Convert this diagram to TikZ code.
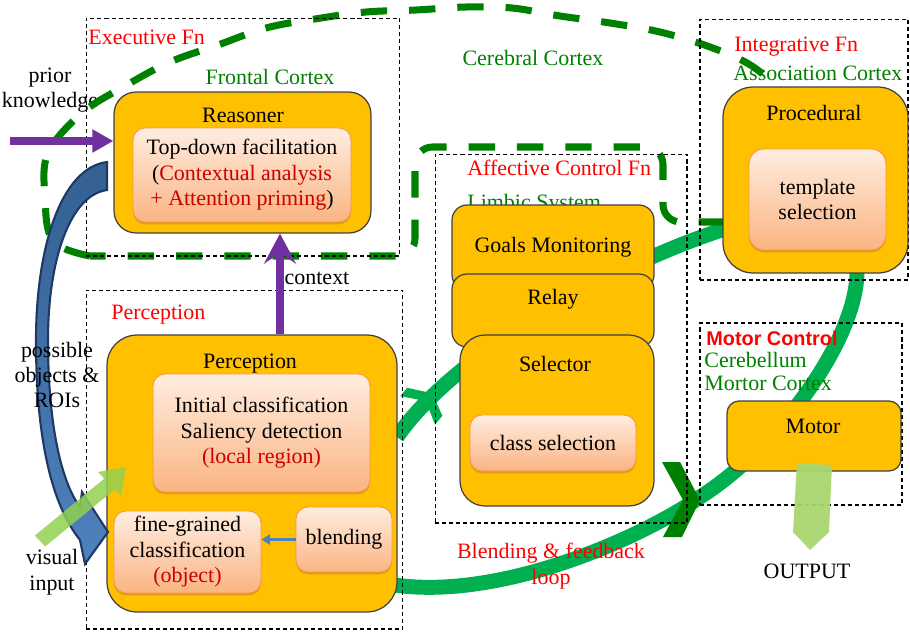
\documentclass[tikz,border=0pt]{standalone}
\usepackage{fontspec}
\setmainfont{Liberation Serif}
\newfontfamily\labelsans{Liberation Sans}
\usetikzlibrary{arrows.meta,shadows}

\definecolor{modfill}{RGB}{255,192,0}
\definecolor{modedge}{RGB}{64,64,64}
\definecolor{taskedge}{RGB}{247,150,70}
\definecolor{tasktop}{RGB}{255,237,224}
\definecolor{taskbot}{RGB}{250,180,130}
\definecolor{taskshadow}{RGB}{200,120,40}
\definecolor{fnred}{RGB}{255,0,0}
\definecolor{notered}{RGB}{204,0,0}
\definecolor{ctxgreen}{RGB}{0,128,0}
\definecolor{loopgreen}{RGB}{0,176,80}
\definecolor{inputgreen}{RGB}{146,208,80}
\definecolor{outgreen}{RGB}{169,214,110}
\definecolor{arrowpurple}{RGB}{112,48,160}
\definecolor{roiblue}{RGB}{31,56,100}
\definecolor{roitop}{RGB}{52,96,146}
\definecolor{roibot}{RGB}{79,129,189}
\definecolor{blendblue}{RGB}{79,129,189}

\tikzset{
  zone/.style={draw, line width=0.6pt, dash pattern=on 2.3pt off 1.7pt, inner sep=0},
  zonefn/.style={text=fnred, anchor=west, inner sep=0},
  zonectx/.style={text=ctxgreen, anchor=west, inner sep=0},
  module/.style={draw=modedge, fill=modfill, line width=0.7pt, inner sep=0},
  task/.style={draw=taskedge, top color=tasktop, bottom color=taskbot, line width=0.5pt,
    rounded corners=0.24cm, inner sep=0, align=center,
    drop shadow={shadow xshift=0pt, shadow yshift=-1.3pt, fill=taskshadow, opacity=0.5}},
  cerebral/.style={draw=ctxgreen, line width=4pt, dash pattern=on 15pt off 12.5pt},
  loopband/.style={draw=loopgreen, line width=8.5pt},
  purplearrow/.style={draw=arrowpurple, line width=4.3pt},
  roiarrow/.style={draw=roiblue, line width=1.2pt, top color=roitop, bottom color=roibot},
  blendarrow/.style={draw=blendblue, line width=1.3pt, -{Triangle[length=5pt,width=6pt]}},
}

\begin{document}
\begin{tikzpicture}[x=0.02cm, y=0.02cm, font=\fontsize{12.5}{14.5}\selectfont]
\useasboundingbox (0,0) rectangle (910,-633);

% feedback loop
\draw[loopband] (397,-437) .. controls (455,-352) and (620,-262) .. (725,-229);
\draw[loopband] (857,-270) .. controls (858,-340) and (775,-450) .. (700,-497)
  .. controls (640,-539) and (500,-600) .. (395,-585);
\fill[loopgreen, shift={(425,-402)}, rotate=50, scale=0.6]
  (-19,38) -- (-1,38) -- (19,0) -- (1,-37) -- (-18,-37) -- (2,0) -- cycle;
\fill[ctxgreen] (662,-462) -- (680,-462) -- (700,-500) -- (682,-537) -- (663,-537) -- (683,-500) -- cycle;

% zone labels
\node[zonefn] at (88,-37) {Executive Fn};
\node[text=ctxgreen] at (270,-77) {Frontal Cortex};
\node[text=ctxgreen] at (533,-58) {Cerebral Cortex};
\node[zonefn] at (734,-47) {Integrative Fn};
\node[zonectx] at (733,-73) {Association Cortex};
\node[zonefn] at (467,-168) {Affective Control Fn};
\node[zonectx] at (467,-204) {Limbic System};
\node[zonefn] at (111,-315) {Perception};
\node[zonefn, font=\labelsans\bfseries\fontsize{11.3}{13}\selectfont] at (706,-338) {Motor Control};
\node[zonectx] at (704,-360) {Cerebellum};
\node[zonectx] at (704,-383) {Mortor Cortex};
\node[align=center] (priorlabel) at (50,-90) {prior\\knowledge};

% cerebral cortex
\draw[cerebral] (725,-222) [rounded corners=0.35cm] -- (663,-222) -- (663,-147) -- (415,-147)
  -- (415,-256) -- (90,-256);
\draw[cerebral] plot[smooth, tension=0.6] coordinates {(90,-256) (53,-241) (45,-197) (48,-153)
  (82,-113) (125,-86) (170,-62) (218,-45) (266,-28) (315,-19) (366,-12) (416,-10) (466,-7)
  (512,-8) (560,-16) (610,-23) (660,-32) (710,-47) (752,-66) (785,-95)};

% zones
\node[zone, minimum width=6.28cm, minimum height=4.76cm] (execzone) at (243,-137) {};
\node[zone, minimum width=6.34cm, minimum height=6.78cm] (percepzone) at (244.5,-459.5) {};
\node[zone, minimum width=5.04cm, minimum height=7.38cm] (affzone) at (561,-338.5) {};
\node[zone, minimum width=4.16cm, minimum height=5.22cm] (integzone) at (804,-149.5) {};
\node[zone, minimum width=4.04cm, minimum height=3.64cm] (motorzone) at (801,-414) {};

% modules
\node[module, rounded corners=0.44cm, minimum width=5.14cm, minimum height=2.82cm] (reasoner) at (242.5,-162.5) {};
\node at (243,-115) {Reasoner};
\node[task, minimum width=4.36cm, minimum height=1.88cm] (topdown) at (242,-175)
  {Top-down facilitation\\(\textcolor{notered}{Contextual analysis}\\\textcolor{notered}{+ Attention priming})};

\node[module, rounded corners=0.6cm, minimum width=5.8cm, minimum height=5.54cm] (percep) at (252,-473.5) {};
\node at (250,-364) {Perception};
\node[task, minimum width=4.34cm, minimum height=2.36cm] (initial) at (261.5,-433)
  {Initial classification\\Saliency detection\\\textcolor{notered}{(local region)}};
\node[task, minimum width=2.94cm, minimum height=1.64cm] (fine) at (187.5,-552)
  {fine-grained\\classification\\\textcolor{notered}{(object)}};
\node[task, minimum width=1.92cm, minimum height=1.3cm] (blend) at (344,-539.5) {blending};

\node[module, rounded corners=0.3cm, minimum width=4.04cm, minimum height=1.7cm] (goals) at (553,-247.5) {Goals Monitoring};
\node[module, rounded corners=0.3cm, minimum width=4.04cm, minimum height=1.46cm] (relay) at (553,-310.5) {};
\node at (553,-299) {Relay};
\node[module, rounded corners=0.5cm, minimum width=3.88cm, minimum height=3.42cm] (selector) at (557,-420.5) {};
\node at (555,-364) {Selector};
\node[task, minimum width=3.32cm, minimum height=1.12cm] (classsel) at (553,-443) {class selection};

\node[module, rounded corners=0.6cm, minimum width=3.7cm, minimum height=3.72cm] (procedural) at (815.5,-180) {};
\node at (814,-113) {Procedural};
\node[task, rounded corners=0.3cm, minimum width=2.74cm, minimum height=2.02cm] (template) at (817.5,-199.5) {template\\selection};

\node[module, rounded corners=0.24cm, minimum width=3.48cm, minimum height=1.4cm] (motor) at (814,-436) {};
\node at (813,-426) {Motor};

% arrows
\coordinate (priorin) at (10,-141);
\coordinate (ctx) at (280,0);
\draw[purplearrow, -{Triangle[length=12pt,width=12.5pt]}] (priorin) -- (priorin -| reasoner.west);
\draw[purplearrow, line width=4pt, -{Stealth[length=17pt,width=18pt,inset=6pt]}] (percep.north -| ctx) -- (reasoner.south -| ctx);
\draw[blendarrow] (blend.west) -- (blend.west -| fine.east);

\draw[roiarrow] (107,-162) .. controls (60,-168) and (36,-250) .. (36,-340)
  .. controls (36,-440) and (52,-505) .. (80,-540) -- (85,-564) -- (108,-532) -- (82,-492) -- (80,-507)
  .. controls (60,-480) and (48,-420) .. (48,-340) .. controls (48,-260) and (70,-195) .. (107,-190) -- cycle;
\fill[inputgreen, fill opacity=0.85] (34.8,-535.6) -- (104.3,-478.6) -- (98,-472) -- (126,-467)
  -- (121,-496) -- (114.7,-489.4) -- (45.2,-546.4) -- cycle;
\fill[outgreen, fill opacity=0.95] (797,-463) -- (832,-465) -- (829,-532) -- (810,-550) -- (793,-532) -- cycle;

% free labels
\node (ctxlabel) at (317,-278) {context};
\node[align=center] (roilabel) at (57,-375) {possible\\objects \&\\ROIs};
\node[align=center] (vislabel) at (52,-572) {visual\\input};
\node[align=center, text=fnred] (looplabel) at (551,-566) {Blending \& feedback\\loop};
\node (outlabel) at (807,-571) {OUTPUT};
\end{tikzpicture}
\end{document}
